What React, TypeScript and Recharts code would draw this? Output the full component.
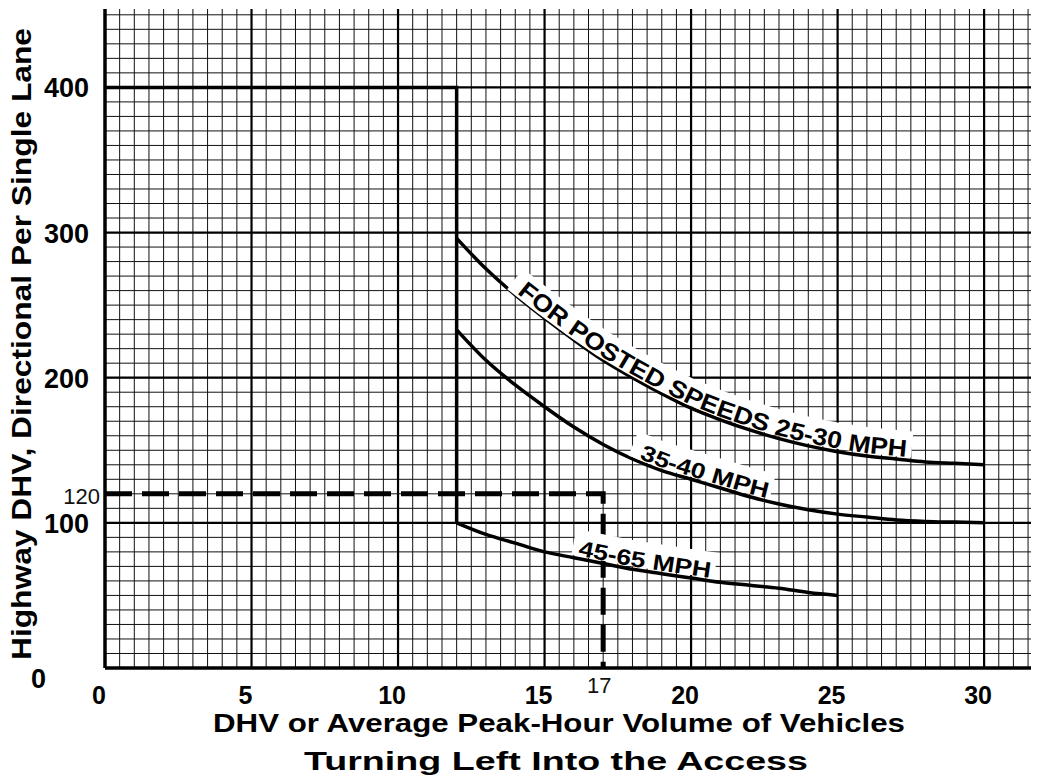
import React from "react";
import { CartesianGrid, Line, LineChart, XAxis, YAxis } from "recharts";

// values
const CURVE_X = [12, 13, 14, 15, 16, 17, 18, 19, 20, 21, 22, 23, 24, 25, 26, 27, 28, 29, 30];
const SPEED_25_30 = [296, 275, 257, 241, 226, 212, 200, 189, 179, 171, 164, 158, 153, 149, 146, 144, 142, 141, 140];
const SPEED_35_40 = [233, 212, 195, 180, 166, 154, 144, 136, 130, 124, 118, 113, 109, 106, 104, 102, 101, 100.5, 100];
const SPEED_45_65 = [100, 92, 86, 80, 76, 72, 68, 65, 62, 59, 57, 55, 52, 50];

const BOUNDARY_X = [0, 12, 12];
const BOUNDARY_Y = [400, 400, 100];
const EXAMPLE_X = [0, 17, 17];
const EXAMPLE_Y = [120, 120, 0];

const X_TICKS = [0, 5, 10, 15, 17, 20, 25, 30];
const Y_TICKS = [0, 100, 120, 200, 300, 400];
const X_MAJOR = [5, 10, 15, 20, 25, 30];
const Y_MAJOR = [100, 200, 300, 400];
const X_MINOR = Array.from({ length: 64 }, (_, i) => i * 0.5);
const Y_MINOR = Array.from({ length: 46 }, (_, i) => i * 10);

const toPoints = (xs: number[], ys: number[]) => ys.map((y, i) => ({ x: xs[i], y }));
const between = (pts: { x: number; y: number }[], a: number, b: number) =>
  pts.filter((p) => p.x >= a && p.x <= b);

const curve2530 = toPoints(CURVE_X, SPEED_25_30);
const curve3540 = toPoints(CURVE_X, SPEED_35_40);
const curve4565 = toPoints(CURVE_X, SPEED_45_65);

const LABELS = [
  { id: "l2530", text: "FOR POSTED SPEEDS 25-30 MPH", data: between(curve2530, 14, 28), len: 430, size: 24 },
  { id: "l3540", text: "35-40 MPH", data: between(curve3540, 18, 23), len: 134, size: 22, start: 7 },
  { id: "l4565", text: "45-65 MPH", data: between(curve4565, 16, 21), len: 134, size: 22, start: 4 },
];

const FONT = "'Liberation Sans', Arial, Helvetica, sans-serif";

const pathOf = (pts: { x: number; y: number }[], dy = 0) =>
  pts.map((p, i) => `${i ? "L" : "M"}${p.x},${p.y + dy}`).join(" ");

// white band + text laid along the curve, drawn once from the first point
function curveLabel(label: (typeof LABELS)[number]) {
  return (props: any) => {
    const { index, points } = props;
    if (index !== 0 || !points) return <g key={`${label.id}-${index}`} />;
    const start = label.start ?? 2;
    const pad = 6;
    return (
      <g key={`${label.id}-0`}>
        <path d={pathOf(points, -16)} fill="none" stroke="#fff" strokeWidth={26}
          strokeDasharray={`${label.len + pad * 2} 9999`} strokeDashoffset={-(start - pad)} />
        <path id={label.id} d={pathOf(points, -3)} fill="none" stroke="none" />
        <text fontFamily={FONT} fontWeight="bold" fontSize={label.size} fill="#000">
          <textPath href={`#${label.id}`} startOffset={start} textLength={label.len} lengthAdjust="spacingAndGlyphs">
            {label.text}
          </textPath>
        </text>
      </g>
    );
  };
}

const renderXTick = (props: any) => {
  const { x, y, payload } = props;
  const v = payload.value;
  if (v === 17) {
    return (
      <text x={x - 4} y={y + 25} textAnchor="middle" fontFamily={FONT} fontSize={22} fill="#111">
        {v}
      </text>
    );
  }
  return (
    <text x={x - 6} y={y + 36} textAnchor="middle" fontFamily={FONT} fontWeight="bold" fontSize={25} fill="#000">
      {v}
    </text>
  );
};

const renderYTick = (props: any) => {
  const { x, y, payload } = props;
  const v = payload.value;
  if (v === 120) {
    return (
      <text x={x - 5} y={y + 10} textAnchor="end" fontFamily={FONT} fontSize={22} fill="#111">
        {v}
      </text>
    );
  }
  if (v === 0) {
    return (
      <text x={x - 59} y={y + 20} textAnchor="end" fontFamily={FONT} fontWeight="bold" fontSize={27} fill="#000">
        {v}
      </text>
    );
  }
  return (
    <text x={x - 16} y={y + 10} textAnchor="end" fontFamily={FONT} fontWeight="bold" fontSize={27} fill="#000">
      {v}
    </text>
  );
};

export default function App() {
  return (
    <div style={{ position: "absolute", left: 0, top: 0, width: 1038, height: 781, background: "#fff" }}>
      <LineChart width={1038} height={781} margin={{ top: 9, right: 7, left: 0, bottom: 0 }}>
        <CartesianGrid verticalValues={X_MINOR} horizontalValues={Y_MINOR} stroke="#111" strokeWidth={1} />
        <CartesianGrid verticalValues={X_MAJOR} horizontalValues={Y_MAJOR} stroke="#000" strokeWidth={2.2} />
        <XAxis type="number" dataKey="x" domain={[0, 31.6]} ticks={X_TICKS} interval={0} allowDataOverflow
          height={113} tickSize={0} tickMargin={0} tickLine={false} tick={renderXTick}
          axisLine={{ stroke: "#000", strokeWidth: 3.5 }} />
        <YAxis type="number" dataKey="y" domain={[0, 454]} ticks={Y_TICKS} interval={0} allowDataOverflow
          width={105} tickSize={0} tickMargin={0} tickLine={false} tick={renderYTick}
          axisLine={{ stroke: "#000", strokeWidth: 3.5 }} />
        <Line data={toPoints(EXAMPLE_X, EXAMPLE_Y)} dataKey="y" type="linear" stroke="#000" strokeWidth={5}
          strokeDasharray="27 10" dot={false} activeDot={false} isAnimationActive={false} />
        {LABELS.map((l) => (
          <Line key={l.id} data={l.data} dataKey="y" type="linear" stroke="none" dot={curveLabel(l)}
            activeDot={false} isAnimationActive={false} />
        ))}
        <Line data={curve2530} dataKey="y" type="monotone" stroke="#000" strokeWidth={3.5} dot={false}
          activeDot={false} isAnimationActive={false} />
        <Line data={curve3540} dataKey="y" type="monotone" stroke="#000" strokeWidth={3.5} dot={false}
          activeDot={false} isAnimationActive={false} />
        <Line data={curve4565} dataKey="y" type="monotone" stroke="#000" strokeWidth={3.5} dot={false}
          activeDot={false} isAnimationActive={false} />
        <Line data={toPoints(BOUNDARY_X, BOUNDARY_Y)} dataKey="y" type="linear" stroke="#000" strokeWidth={3.5}
          dot={false} activeDot={false} isAnimationActive={false} />
      </LineChart>
      <svg width={1038} height={781} style={{ position: "absolute", left: 0, top: 0, pointerEvents: "none" }}>
        <text transform="translate(31,344) rotate(-90)" textAnchor="middle" fontFamily={FONT} fontWeight="bold"
          fontSize={27} textLength={632} lengthAdjust="spacingAndGlyphs">
          Highway DHV, Directional Per Single Lane
        </text>
        <text x={559} y={732} textAnchor="middle" fontFamily={FONT} fontWeight="bold" fontSize={26}
          textLength={692} lengthAdjust="spacingAndGlyphs">
          DHV or Average Peak-Hour Volume of Vehicles
        </text>
        <text x={556} y={770} textAnchor="middle" fontFamily={FONT} fontWeight="bold" fontSize={26}
          textLength={504} lengthAdjust="spacingAndGlyphs">
          Turning Left Into the Access
        </text>
      </svg>
    </div>
  );
}
